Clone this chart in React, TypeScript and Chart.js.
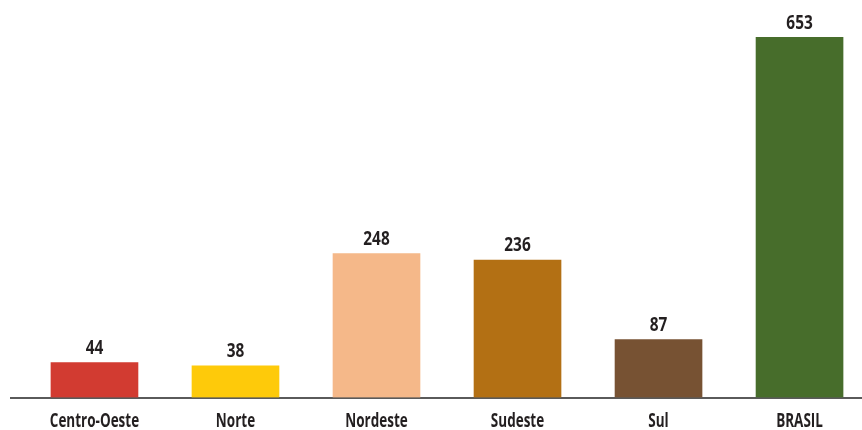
import React, { useEffect, useRef } from "react";
import { Chart, registerables } from "chart.js";

Chart.register(...registerables);

const categories = ["Centro-Oeste", "Norte", "Nordeste", "Sudeste", "Sul", "BRASIL"];
const values = [44, 38, 248, 236, 87, 653];
const colors = ["#D23B31", "#FECA0A", "#F5B889", "#B37014", "#775233", "#476D2B"];

const FONT = "'Open Sans', 'Liberation Sans', sans-serif";
const TEXT = "#231F20";

function condensedText(ctx: CanvasRenderingContext2D, text: string, x: number, y: number, k: number) {
  const w = ctx.measureText(text).width;
  ctx.fillText(text, x, y, w * k);
}

const labelsPlugin = {
  id: "labelsPlugin",
  afterDatasetsDraw(chart: any) {
    const ctx = chart.ctx as CanvasRenderingContext2D;
    const meta = chart.getDatasetMeta(0);
    const xScale = chart.scales.x;
    ctx.save();
    ctx.fillStyle = TEXT;
    ctx.textAlign = "center";
    ctx.textBaseline = "alphabetic";
    ctx.font = `bold 20px ${FONT}`;
    meta.data.forEach((bar: any, i: number) => {
      condensedText(ctx, String(values[i]), bar.x, bar.y - 8.5, 0.77);
    });
    ctx.font = `bold 19px ${FONT}`;
    categories.forEach((c, i) => {
      condensedText(ctx, c, xScale.getPixelForValue(i), xScale.bottom - 3.5, 0.71);
    });
    ctx.restore();
  },
};

export default function App() {
  const ref = useRef<HTMLCanvasElement>(null);
  useEffect(() => {
    if (!ref.current) return;
    const chart = new Chart(ref.current, {
      type: "bar",
      data: {
        datasets: [
          {
            data: values.map((v, i) => ({ x: i, y: v })),
            backgroundColor: colors,
            barThickness: 87,
            base: -21.5,
          } as any,
        ],
      },
      options: {
        responsive: false,
        animation: false,
        layout: { padding: { left: 11, right: 0, top: 10, bottom: 0 } },
        plugins: { legend: { display: false }, tooltip: { enabled: false } },
        scales: {
          x: {
            type: "linear",
            min: -0.592,
            max: 5.443,
            offset: false,
            grid: { display: false, drawTicks: false },
            border: { display: true, color: "#5a5a5a", width: 2 },
            afterBuildTicks: (axis: any) => {
              axis.ticks = categories.map((_, i) => ({ value: i }));
            },
            afterFit: (axis: any) => {
              axis.height = 32.5;
            },
            ticks: { display: false },
          },
          y: {
            display: false,
            min: -21.5,
            max: 704,
          },
        },
      },
      plugins: [labelsPlugin],
    });
    return () => chart.destroy();
  }, []);
  return (
    <div style={{ position: "fixed", left: 0, top: 0, width: 862, height: 430, background: "#fff" }}>
      <canvas ref={ref} width={862} height={430} style={{ display: "block" }} />
    </div>
  );
}
